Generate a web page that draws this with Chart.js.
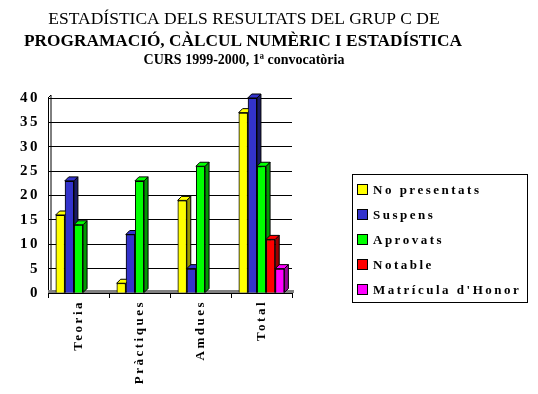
<!DOCTYPE html>
<html>
<head>
<meta charset="utf-8">
<script src="https://cdn.jsdelivr.net/npm/chart.js@4.4.1/dist/chart.umd.min.js"></script>
<style>
  body { margin: 0; background: #fff; }
  #chart { display: block; }
</style>
</head>
<body>
<canvas id="chart" width="538" height="394"></canvas>
<script>
var categories = ["Teoria", "Pràctiques", "Amdues", "Total"];
var noPresentats = [16, 2, 19, 37];
var suspens = [23, 12, 5, 40];
var aprovats = [14, 23, 26, 26];
var notable = [0, 0, 0, 11];
var matricula = [0, 0, 0, 5];
var seriesNames = ["No presentats", "Suspens", "Aprovats", "Notable", "Matrícula d'Honor"];
var titleLines = ["ESTADÍSTICA DELS RESULTATS DEL GRUP C DE", "PROGRAMACIÓ, CÀLCUL NUMÈRIC I ESTADÍSTICA", "CURS 1999-2000, 1ª convocatòria"];
var yMax = 40;
var yStep = 5;

var fronts = ["#ffff00", "#3333cc", "#00ff00", "#ff0000", "#ff00ff"];
var sides = ["#999900", "#1a1a66", "#009900", "#990000", "#990099"];
var serif = "'Liberation Serif', 'Times New Roman', serif";

var spacingPlugin = {
  id: "spacing",
  beforeUpdate: function(chart) { chart.ctx.letterSpacing = "2.5px"; },
  beforeDraw: function(chart) { chart.ctx.letterSpacing = "2.5px"; }
};

var titlePlugin = {
  id: "titleText",
  afterDraw: function(chart) {
    var ctx = chart.ctx;
    ctx.save();
    ctx.letterSpacing = "0px";
    ctx.fillStyle = "#000";
    ctx.textAlign = "center";
    ctx.textBaseline = "alphabetic";
    ctx.font = "17.5px " + serif;
    ctx.fillText(titleLines[0], 244, 24);
    ctx.font = "bold 17.3px " + serif;
    ctx.fillText(titleLines[1], 243, 46);
    ctx.font = "bold 14px " + serif;
    ctx.fillText(titleLines[2], 244, 64);
    ctx.restore();
  }
};

var floorPlugin = {
  id: "floor",
  beforeDatasetsDraw: function(chart) {
    var ctx = chart.ctx, a = chart.chartArea;
    ctx.save();
    ctx.fillStyle = "#808080";
    ctx.fillRect(a.left, a.bottom - 3, a.right - a.left + 2, 3);
    ctx.strokeStyle = "#000";
    ctx.lineWidth = 1;
    ctx.beginPath();
    ctx.moveTo(a.left + 3, a.top - 3);
    ctx.lineTo(a.left + 3, a.bottom - 3);
    ctx.moveTo(a.left, a.top);
    ctx.lineTo(a.left + 3, a.top - 3);
    ctx.stroke();
    ctx.restore();
  }
};

var depthPlugin = {
  id: "depth",
  afterDatasetsDraw: function(chart) {
    var ctx = chart.ctx, d = 4;
    for (var c = 0; c < categories.length; c++) {
      for (var s = 0; s < chart.data.datasets.length; s++) {
        var ds = chart.data.datasets[s];
        if (!ds.data[c]) continue;
        var bar = chart.getDatasetMeta(s).data[c];
        bar.draw(ctx);
        var l = bar.x - bar.width / 2, r = bar.x + bar.width / 2;
        ctx.save();
        ctx.lineWidth = 1;
        ctx.strokeStyle = "#000";
        ctx.fillStyle = sides[s];
        ctx.beginPath();
        ctx.moveTo(r, bar.y);
        ctx.lineTo(r + d, bar.y - d);
        ctx.lineTo(r + d, bar.base - d);
        ctx.lineTo(r, bar.base);
        ctx.closePath();
        ctx.fill();
        ctx.stroke();
        ctx.fillStyle = fronts[s];
        ctx.beginPath();
        ctx.moveTo(l, bar.y);
        ctx.lineTo(l + d, bar.y - d);
        ctx.lineTo(r + d, bar.y - d);
        ctx.lineTo(r, bar.y);
        ctx.closePath();
        ctx.fill();
        ctx.stroke();
        ctx.restore();
      }
    }
  }
};

var legendPlugin = {
  id: "boxLegend",
  afterDraw: function(chart) {
    var ctx = chart.ctx;
    ctx.save();
    ctx.letterSpacing = "2.5px";
    ctx.lineWidth = 1;
    ctx.strokeStyle = "#000";
    ctx.strokeRect(352.5, 174.5, 175, 128);
    ctx.font = "bold 13px " + serif;
    ctx.textBaseline = "middle";
    ctx.textAlign = "left";
    chart.data.datasets.forEach(function(ds, i) {
      var cy = 190 + i * 25;
      ctx.fillStyle = ds.backgroundColor;
      ctx.fillRect(357.5, cy - 5.5, 10, 10);
      ctx.strokeRect(357.5, cy - 5.5, 10, 10);
      ctx.fillStyle = "#000";
      ctx.fillText(ds.label, 373, cy + 1);
    });
    ctx.restore();
  }
};

var series = [noPresentats, suspens, aprovats, notable, matricula];
var datasets = series.map(function(vals, i) {
  return {
    label: seriesNames[i],
    data: vals,
    backgroundColor: fronts[i],
    borderColor: "#000",
    borderWidth: 1,
    categoryPercentage: 0.75,
    barPercentage: 1
  };
});

new Chart(document.getElementById("chart"), {
  type: "bar",
  data: { labels: categories, datasets: datasets },
  plugins: [spacingPlugin, floorPlugin, depthPlugin, legendPlugin, titlePlugin],
  options: {
    responsive: false,
    animation: false,
    devicePixelRatio: 1,
    layout: { padding: { top: 98, right: 246, left: 0, bottom: 0 } },
    plugins: { legend: { display: false }, tooltip: { enabled: false }, title: { display: false } },
    scales: {
      x: {
        grid: { drawOnChartArea: false, drawTicks: true, tickLength: 5, color: "#000", offset: true },
        border: { color: "#000" },
        ticks: {
          color: "#000",
          font: { family: serif, size: 13, weight: "bold" },
          minRotation: 90,
          maxRotation: 90,
          padding: 2
        },
        afterFit: function(scale) { scale.height = 101; }
      },
      y: {
        min: 0,
        max: yMax,
        grid: { color: "#000", drawTicks: false },
        border: { color: "#000" },
        ticks: {
          stepSize: yStep,
          color: "#000",
          padding: 8,
          font: { family: serif, size: 15, weight: "bold" }
        },
        afterFit: function(scale) { scale.width = 48; }
      }
    }
  }
});
</script>
</body>
</html>
